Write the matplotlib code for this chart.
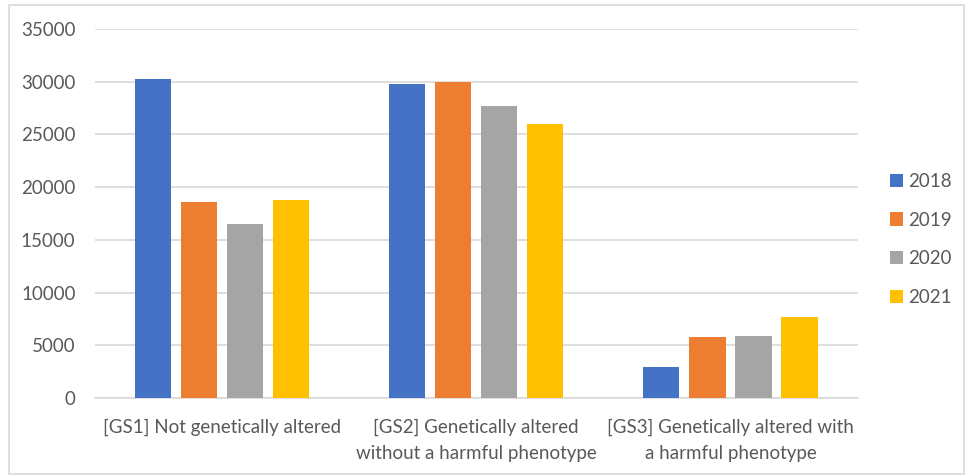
import numpy as np
import matplotlib.pyplot as plt
from matplotlib.patches import Rectangle

categories = ['[GS1] Not genetically altered',
              '[GS2] Genetically altered\nwithout a harmful phenotype',
              '[GS3] Genetically altered with\na harmful phenotype']
years = ['2018', '2019', '2020', '2021']
v2018 = [30300, 29750, 2950]
v2019 = [18600, 29950, 5750]
v2020 = [16500, 27700, 5850]
v2021 = [18800, 26000, 7700]
colors = ['#4472C4', '#ED7D31', '#A5A5A5', '#FFC000']

plt.rcParams['font.family'] = ['Lato', 'DejaVu Sans']
text_col = '#595959'

fig = plt.figure(figsize=(9.69, 4.75), dpi=100)
ax = fig.add_axes([0.098, 0.162, 0.787, 0.777])

x = np.arange(len(categories))
width = 0.142
step = 0.181
for i, (vals, yr) in enumerate(zip([v2018, v2019, v2020, v2021], years)):
    ax.bar(x + (i - 1.5) * step, vals, width, color=colors[i], label=yr, zorder=3)

ax.set_xlim(-0.5, 2.5)
ax.set_ylim(0, 35000)
ax.set_yticks(np.arange(0, 35001, 5000))
ax.yaxis.grid(True, color='#d9d9d9', linewidth=1.2, zorder=0)
for s in ['top', 'right', 'left']:
    ax.spines[s].set_visible(False)
ax.spines['bottom'].set_color('#d9d9d9')
ax.spines['bottom'].set_linewidth(1.2)
ax.tick_params(axis='both', length=0, labelsize=13.5, colors=text_col)
ax.tick_params(axis='y', pad=14)
ax.tick_params(axis='x', pad=15)
ax.set_xticks(x)
ax.set_xticklabels(categories, linespacing=1.65)

leg = ax.legend(loc='center left', bbox_to_anchor=(1.02, 0.43), frameon=False,
                handlelength=0.7, handleheight=0.7, handletextpad=0.3,
                labelspacing=1.15, fontsize=13.5)
for t in leg.get_texts():
    t.set_color(text_col)

fig.patches.append(Rectangle((9 / 969, 0.002), 955 / 969, 1 - 4.5 / 475 - 0.002,
                             transform=fig.transFigure, fill=False,
                             edgecolor='#d9d9d9', linewidth=1.2))

fig.savefig('out.png', dpi=100)
